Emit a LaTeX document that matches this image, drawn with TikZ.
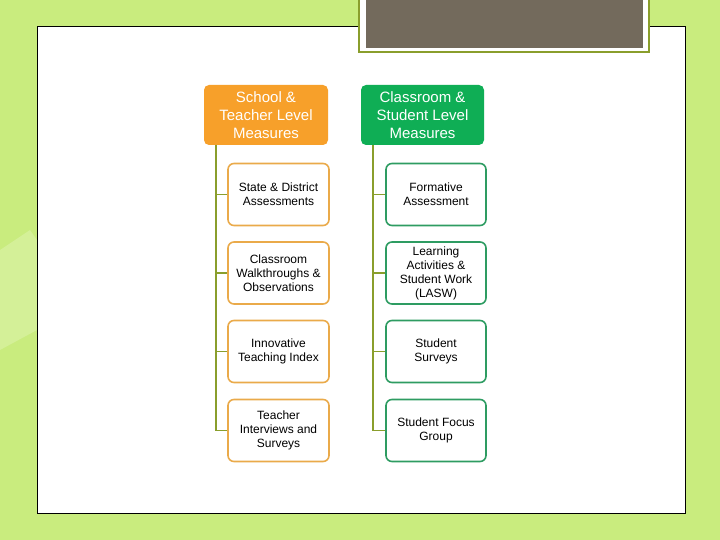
\documentclass[tikz,border=0pt]{standalone}
\usepackage{fontspec}
\setmainfont{Liberation Sans}
\begin{document}
\begin{tikzpicture}[x=1pt,y=-1pt,
  hdr/.style={rounded corners=5pt,text=white,align=center,font=\fontsize{15}{18}\selectfont,inner sep=0pt},
  kid/.style={rounded corners=6pt,line width=1.6pt,fill=white,align=center,font=\fontsize{12}{14}\selectfont,inner sep=0pt},
  tree/.style={draw=treeg,line width=1.8pt}]
\definecolor{bg}{HTML}{C9EC7E}
\definecolor{org}{HTML}{F7A02A}
\definecolor{grn}{HTML}{0FAE55}
\definecolor{orgb}{HTML}{EAAA4A}
\definecolor{grnb}{HTML}{2E9C62}
\definecolor{topg}{HTML}{736A5C}
\definecolor{treeg}{HTML}{8A9E2C}
\useasboundingbox (0,0) rectangle (720,540);
\fill[bg] (0,0) rectangle (720,540);
\fill[bg!80!white] (0,250) -- (30,230) -- (37,240) -- (37,330) -- (0,350) -- cycle;
\fill[white,draw=black,line width=0.6pt] (37,26) rectangle (685,513);
\fill[white] (358,0) rectangle (650,53);
\draw[draw=treeg,line width=1.8pt] (359,-2) -- (359,52) -- (649,52) -- (649,-2);
\fill[topg] (366,0) rectangle (643,48);
\node[hdr,fill=org,minimum width=124,minimum height=60] (h1) at (266,115) {School \&\\Teacher Level\\Measures};
\node[hdr,fill=grn,minimum width=123,minimum height=60] (h2) at (422.5,115) {Classroom \&\\Student Level\\Measures};
\foreach \n/\y/\t in {a/194.5/{State \& District\\Assessments},b/273/{Classroom\\Walkthroughs \&\\Observations},c/351.5/{Innovative\\Teaching Index},d/430.5/{Teacher\\Interviews and\\Surveys}}{
  \node[kid,draw=orgb,minimum width=101,minimum height=62] (l\n) at (278.5,\y) {\t};}
\foreach \n/\y/\t in {a/194.5/{Formative\\Assessment},b/273/{Learning\\Activities \&\\Student Work\\(LASW)},c/351.5/{Student\\Surveys},d/430.5/{Student Focus\\Group}}{
  \node[kid,draw=grnb,minimum width=100,minimum height=62] (r\n) at (436,\y) {\t};}
\coordinate (t1) at (216,145);
\coordinate (t2) at (373,145);
\draw[tree] (t1) |- (ld.west);
\draw[tree] (t2) |- (rd.west);
\foreach \n in {a,b,c}{
  \draw[tree] (t1 |- l\n.west) -- (l\n.west);
  \draw[tree] (t2 |- r\n.west) -- (r\n.west);}
\end{tikzpicture}
\end{document}
